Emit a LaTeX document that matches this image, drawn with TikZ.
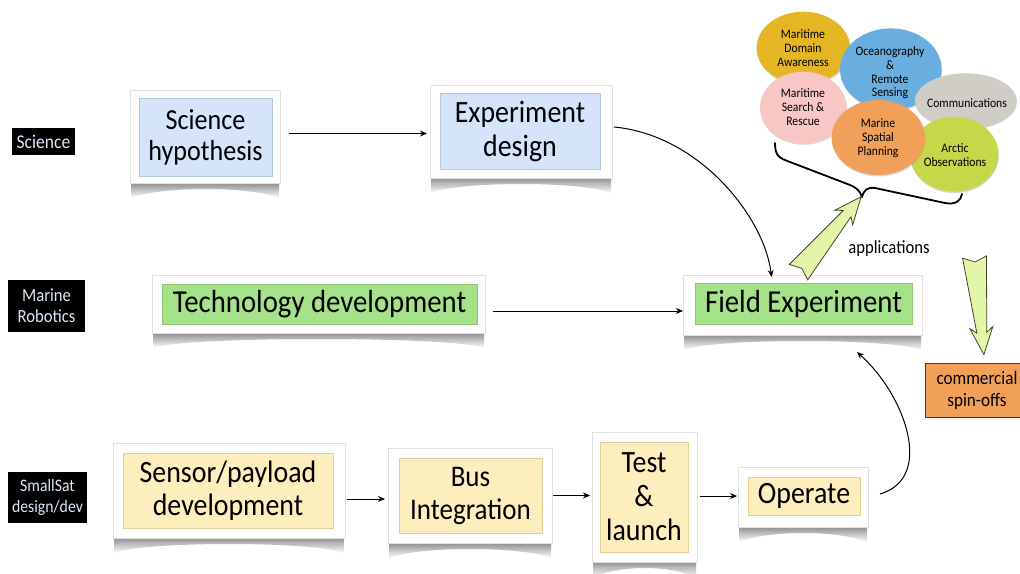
\documentclass[tikz,border=0pt]{standalone}
\usepackage{fontspec}
\setmainfont{Carlito}[FakeStretch=0.9]
\usetikzlibrary{arrows.meta,shapes.geometric,shadows,backgrounds}
\definecolor{blueF}{HTML}{D6E4FA}
\definecolor{blueD}{HTML}{B4C8E6}
\definecolor{greenF}{HTML}{A6E28A}
\definecolor{greenD}{HTML}{8CC874}
\definecolor{yelF}{HTML}{FDEEBE}
\definecolor{yelD}{HTML}{E2CF96}
\definecolor{labT}{HTML}{DCE7F5}
\definecolor{arrF}{HTML}{E3F5A9}
\definecolor{arrD}{HTML}{44442C}
\definecolor{orgF}{HTML}{F0A058}
\definecolor{bGold}{HTML}{E5B624}
\definecolor{bBlue}{HTML}{6AAEE0}
\definecolor{bPink}{HTML}{F9C6C6}
\definecolor{bGray}{HTML}{D0CCC6}
\definecolor{bOrg}{HTML}{F0A058}
\definecolor{bGreen}{HTML}{C6D84A}
\newcommand\fs[2]{\fontsize{#1}{#2}\selectfont}
\newcommand\cardshadow[1]{%
  \shade[top color=black!55, bottom color=white]
    ([xshift=1pt,yshift=4pt]#1.south west) -- ([xshift=-1pt,yshift=4pt]#1.south east)
    -- ([xshift=-1pt,yshift=-15pt]#1.south east)
    .. controls ([xshift=-30pt,yshift=-3pt]#1.south east) and ([xshift=30pt,yshift=-3pt]#1.south west)
    .. ([xshift=1pt,yshift=-15pt]#1.south west) -- cycle;}
\tikzset{
  frame/.style={fill=white, draw=black!12, line width=0.5pt, inner sep=0pt, outer sep=0pt},
  inbox/.style={line width=0.4pt, inner sep=0pt, outer sep=0pt, align=center, text=black},
  bluebox/.style={inbox, fill=blueF, draw=blueD},
  greenbox/.style={inbox, fill=greenF, draw=greenD},
  yelbox/.style={inbox, fill=yelF, draw=yelD},
  lab/.style={fill=black, text=labT, align=center, inner sep=0pt, font=\fs{18.5}{21}},
  conn/.style={line width=1pt, -{Stealth[length=7pt,width=6pt]}},
  bubble/.style={ellipse, inner sep=0pt, draw=none, drop shadow={opacity=0.3, shadow xshift=0.5pt, shadow yshift=-1.5pt}},
  btext/.style={align=center, text=black, inner sep=0pt, font=\fs{13}{13.7}},
  bigarrow/.pic={\draw[fill=arrF, draw=arrD, line width=0.8pt, line join=miter]
     (0,0) -- (-5,12) -- (71,5) -- (66,11.5) -- (93,0) -- (66,-11.5) -- (71,-5) -- (-5,-12) -- cycle;},
}
\begin{document}
\begin{tikzpicture}[x=1pt,y=-1pt]
\useasboundingbox (0,0) rectangle (1020,573);
\clip (0,0) rectangle (1020,573);

% left row labels
\node[lab, minimum width=63, minimum height=27, font=\fs{19.5}{21}] (labSci) at (43.5,141.5) {Science};
\node[lab, minimum width=77, minimum height=52] (labRob) at (46.5,306) {Marine\\Robotics};
\node[lab, minimum width=79, minimum height=51, font=\fs{17.5}{21}] (labSat) at (47.5,497.5) {SmallSat\\design/dev};

% frames
\node[frame, minimum width=150, minimum height=93] (hypF) at (205,136.5) {};
\node[frame, minimum width=182, minimum height=93] (expF) at (521,131.5) {};
\node[frame, minimum width=333, minimum height=58] (techF) at (318.5,304) {};
\node[frame, minimum width=239, minimum height=60] (fieldF) at (802.5,305) {};
\node[frame, minimum width=232, minimum height=95] (sensF) at (229,490.5) {};
\node[frame, minimum width=164, minimum height=95] (busF) at (470,495.5) {};
\node[frame, minimum width=105, minimum height=130] (testF) at (644.5,497) {};
\node[frame, minimum width=130, minimum height=60] (opF) at (803,497) {};

\begin{pgfonlayer}{background}
\fill[white] (0,0) rectangle (1020,573);
\cardshadow{hypF}
\cardshadow{expF}
\cardshadow{techF}
\cardshadow{fieldF}
\cardshadow{sensF}
\cardshadow{busF}
\cardshadow{testF}
\cardshadow{opF}
\end{pgfonlayer}

% inner boxes
\node[bluebox, minimum width=133, minimum height=78, font=\fs{29}{31}] (hyp) at (205.5,137) {Science\\hypothesis};
\node[bluebox, minimum width=160, minimum height=76, font=\fs{31}{34}] (exp) at (520,131) {Experiment\\design};
\node[greenbox, minimum width=315, minimum height=40, font=\fs{32}{34}] (tech) at (319.5,304) {Technology development};
\node[greenbox, minimum width=217, minimum height=41, font=\fs{32}{34}] (field) at (803.5,303.5) {Field Experiment};
\node[yelbox, minimum width=210, minimum height=75, font=\fs{31}{33}] (sens) at (228,490.5) {Sensor/payload\\development};
\node[yelbox, minimum width=143, minimum height=75, font=\fs{30}{33}] (bus) at (470.5,495.5) {Bus\\Integration};
\node[yelbox, minimum width=88, minimum height=110, font=\fs{31}{34}] (test) at (644,497) {Test\\\&\\launch};
\node[yelbox, minimum width=112, minimum height=38, font=\fs{31}{33}] (op) at (804,496) {Operate};

% connectors
\draw[conn, shorten <=9pt, shorten >=3pt] ([yshift=3pt]hypF.east) -- ([yshift=3pt]hypF.east -| expF.west);
\draw[conn, shorten <=8pt] ([yshift=-7pt]techF.east) -- ([yshift=-7pt]techF.east -| fieldF.west);
\draw[conn, shorten <=2pt, shorten >=3pt] ([yshift=-8.5pt]sensF.east) -- ([yshift=-8.5pt]sensF.east -| busF.west);
\draw[conn, shorten <=1pt, shorten >=2pt] (busF.east) -- (busF.east -| testF.west);
\draw[conn, shorten <=3pt, shorten >=1pt] ([yshift=1pt]testF.east) -- ([yshift=1pt]testF.east -| opF.west);
\draw[conn] ([xshift=2pt,yshift=4.5pt]expF.east) .. controls +(86,8) and +(-7,-59) .. ([xshift=-31pt,yshift=-2pt]fieldF.north);
\draw[conn] ([xshift=12pt,yshift=3pt]opF.east) .. controls +(55,-16) and +(48,43) .. ([xshift=54.5pt,yshift=-17pt]fieldF.south);

% application bubbles
\node[bubble, fill=bGold, minimum width=93.4, minimum height=72.6] (bMDA) at (803.3,48) {};
\node[btext] (tMDA) at (803,48) {Maritime\\Domain\\Awareness};
\node[bubble, fill=bBlue, minimum width=101.6, minimum height=81.6] (bOce) at (890.8,69.2) {};
\node[btext] (tOce) at (890,73) {Oceanography\\\&\\Remote\\Sensing};
\node[bubble, fill=bPink, minimum width=86.6, minimum height=71.6] (bSAR) at (803.3,107.5) {};
\node[btext] (tSAR) at (803,107) {Maritime\\Search \&\\Rescue};
\node[bubble, fill=bGray, minimum width=101.6, minimum height=55] (bCom) at (965.8,100.8) {};
\node[btext] (tCom) at (967,103) {Communications};
\node[bubble, fill=bGreen, minimum width=88.4, minimum height=75] (bArc) at (954.2,154.2) {};
\node[btext] (tArc) at (955,155) {Arctic\\Observations};
\node[bubble, fill=bOrg, minimum width=93.4, minimum height=75] (bMSP) at (878.3,137.5) {};
\node[btext] (tMSP) at (878,138) {Marine\\Spatial\\Planning};

% brace
\draw[line width=1.8pt, line cap=round, line join=round]
  (775,143) .. controls (775,156) and (779,158) .. (790,162) -- (850,185)
  .. controls (857,188) and (860,191) .. (862,197)
  .. controls (864,190) and (867,187) .. (875,188) -- (945,203)
  .. controls (955,205) and (961,201) .. (962,194);

% big arrows
\pic[rotate=50.3] (applArrow) at (801.7,268.3) {bigarrow};
\pic[rotate=-84.5] (commArrow) at (975,262) {bigarrow};

\node[inner sep=0pt, font=\fs{18.5}{20}] (appl) at (889,249) {applications};
\node[fill=orgF, draw=black!75, line width=1pt, minimum width=104, minimum height=54, align=center, inner sep=0pt, font=\fs{19}{22}] (comm) at (977,390) {commercial\\spin-offs};
\end{tikzpicture}
\end{document}
